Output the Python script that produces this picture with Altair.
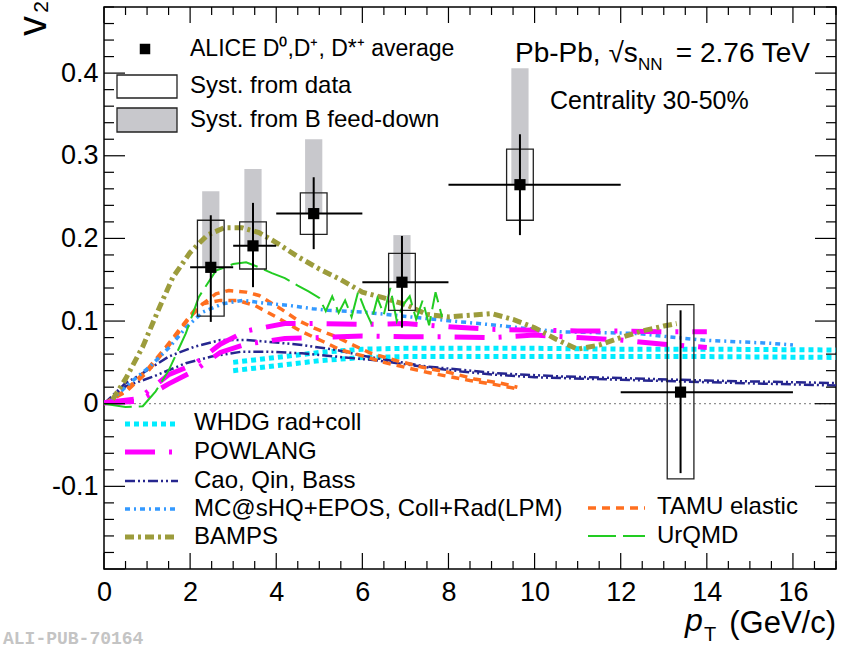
import altair as alt
import pandas as pd

FONT = "Liberation Sans"
W, H = 732, 562

# ---------------- ALICE measurement ----------------
pt = [2.48, 3.46, 4.87, 6.92, 9.66, 13.39]
pt_lo = [2, 3, 4, 6, 8, 12]
pt_hi = [3, 4, 6, 8, 12, 16]
v2 = [0.165, 0.191, 0.230, 0.147, 0.265, 0.014]
stat_lo = [0.099, 0.141, 0.187, 0.092, 0.204, -0.084]
stat_hi = [0.228, 0.243, 0.274, 0.203, 0.326, 0.113]
syst_lo = [0.106, 0.163, 0.205, 0.113, 0.222, -0.091]
syst_hi = [0.222, 0.220, 0.255, 0.182, 0.308, 0.120]
fd_hi = [0.257, 0.284, 0.320, 0.204, 0.406, 0.014]

# ---------------- model curves ----------------
whdg_x = [3.0, 3.5, 4.0, 4.5, 5.0, 5.5, 6.0, 7.0, 8.0, 10.0, 12.0, 14.0, 17.0]
whdg_hi = [0.050, 0.053, 0.056, 0.059, 0.062, 0.064, 0.066, 0.067, 0.067, 0.067, 0.066, 0.066, 0.065]
whdg_lo = [0.040, 0.043, 0.046, 0.049, 0.052, 0.054, 0.056, 0.057, 0.057, 0.057, 0.057, 0.057, 0.056]

pow_x = [0.0, 0.8, 1.5, 2.1, 2.7, 3.3, 4.2, 5.0, 6.0, 7.0, 8.0, 9.0, 10.0, 11.0, 12.0, 13.0, 14.0]
pow_hi = [0.001, 0.006, 0.035, 0.048, 0.072, 0.088, 0.097, 0.097, 0.096, 0.097, 0.093, 0.090, 0.089, 0.088, 0.088, 0.087, 0.087]
pow_lo = [0.001, 0.003, 0.024, 0.040, 0.062, 0.072, 0.079, 0.080, 0.082, 0.081, 0.081, 0.080, 0.083, 0.080, 0.077, 0.072, 0.068]

cao_hi_x = [0.0, 0.5, 0.9, 1.5, 2.1, 2.7, 3.3, 3.8, 4.6, 5.4, 6.0, 6.8, 7.5, 8.3, 9.1, 9.8, 10.6, 12.0, 14.0, 17.0]
cao_hi = [0.0, 0.025, 0.037, 0.057, 0.069, 0.077, 0.077, 0.075, 0.071, 0.065, 0.058, 0.051, 0.045, 0.041, 0.037, 0.035, 0.033, 0.031, 0.028, 0.025]
cao_lo_x = [0.0, 0.5, 1.15, 1.9, 2.5, 3.2, 3.8, 4.6, 5.4, 6.4, 7.5, 8.3, 9.1, 10.0, 12.0, 14.0, 17.0]
cao_lo = [0.0, 0.021, 0.033, 0.049, 0.057, 0.063, 0.063, 0.061, 0.057, 0.052, 0.044, 0.039, 0.035, 0.032, 0.029, 0.026, 0.022]

mc_x = [0.15, 0.6, 1.07, 1.53, 1.92, 2.3, 2.76, 3.23, 3.84, 4.3, 4.84, 5.2, 6.0, 6.75, 7.5, 8.3, 9.1, 9.8, 10.6, 11.5, 12.4, 13.1, 13.9, 14.7, 15.5, 16.0]
mc_v = [0.003, 0.025, 0.045, 0.069, 0.093, 0.111, 0.121, 0.125, 0.121, 0.119, 0.115, 0.113, 0.111, 0.107, 0.103, 0.099, 0.095, 0.091, 0.087, 0.086, 0.085, 0.081, 0.077, 0.075, 0.073, 0.071]

bamps_x = [0.2, 0.5, 0.9, 1.3, 1.6, 2.0, 2.4, 2.8, 3.2, 3.6, 4.0, 4.5, 5.0, 5.5, 6.0, 6.5, 7.0, 7.5, 8.0, 8.5, 9.0, 9.5, 10.0, 10.5, 11.0, 11.5, 12.0, 12.5, 13.0, 13.3]
bamps_v = [0.005, 0.030, 0.069, 0.118, 0.153, 0.183, 0.204, 0.213, 0.213, 0.207, 0.195, 0.178, 0.163, 0.150, 0.135, 0.128, 0.120, 0.108, 0.105, 0.107, 0.109, 0.102, 0.092, 0.078, 0.066, 0.071, 0.080, 0.088, 0.094, 0.097]

tamu_hi_x = [0.0, 0.5, 1.0, 1.4, 1.8, 2.1, 2.6, 2.9, 3.3, 3.6, 4.1, 4.5, 4.9, 5.4, 5.7, 6.2, 6.8, 7.4, 8.0, 8.6, 9.2, 9.6]
tamu_hi = [0.0, 0.016, 0.041, 0.066, 0.093, 0.113, 0.133, 0.137, 0.135, 0.131, 0.115, 0.101, 0.091, 0.081, 0.073, 0.061, 0.052, 0.044, 0.038, 0.030, 0.025, 0.020]
tamu_lo_x = [0.0, 0.5, 1.0, 1.5, 2.0, 2.3, 2.7, 3.1, 3.5, 4.0, 4.6, 5.1, 5.5, 6.0, 6.5, 7.0, 7.5, 8.0, 8.5, 9.0, 9.6]
tamu_lo = [0.0, 0.014, 0.038, 0.070, 0.105, 0.121, 0.125, 0.125, 0.119, 0.105, 0.087, 0.075, 0.065, 0.058, 0.050, 0.044, 0.038, 0.033, 0.028, 0.024, 0.018]

urqmd_x = [0.0, 0.5, 0.9, 1.2, 1.5, 1.9, 2.2, 2.6, 3.0, 3.3, 3.6, 3.9, 4.2, 4.5, 4.75, 5.0, 5.15, 5.3, 5.45, 5.6, 5.75, 5.9, 6.05, 6.2, 6.35, 6.5, 6.65, 6.8, 6.95, 7.1, 7.25, 7.4, 7.55, 7.7, 7.85]
urqmd_v = [0.0, -0.004, -0.003, 0.015, 0.040, 0.085, 0.129, 0.161, 0.169, 0.171, 0.165, 0.158, 0.152, 0.143, 0.136, 0.128, 0.112, 0.130, 0.110, 0.125, 0.105, 0.135, 0.115, 0.098, 0.128, 0.108, 0.140, 0.100, 0.120, 0.130, 0.102, 0.125, 0.095, 0.135, 0.105]

# ---------------- axis ticks ----------------
x_labels = [0, 2, 4, 6, 8, 10, 12, 14, 16]
x_minor = [i * 0.5 for i in range(0, 35) if i % 4 != 0]
y_labels = [-0.1, 0.0, 0.1, 0.2, 0.3, 0.4]
y_major = [-0.2, -0.1, 0.0, 0.1, 0.2, 0.3, 0.4]
y_minor = [round(-0.2 + 0.02 * i, 2) for i in range(0, 35) if i % 5 != 0]

XS = alt.Scale(domain=[0, 17], nice=False, zero=False)
YS = alt.Scale(domain=[-0.2, 0.48], nice=False, zero=False)

XAX = alt.Axis(values=x_labels, ticks=False, domain=False, grid=False, title=None,
               labelFont=FONT, labelFontSize=27, labelColor="black",
               labelPadding=10, labelFlush=False, labelOverlap=False)
YAX = alt.Axis(values=y_labels, ticks=False, domain=False, grid=False, title=None,
               labelFont=FONT, labelFontSize=27, labelColor="black",
               labelPadding=6, labelFlush=False, labelOverlap=False,
               labelExpr="datum.value == 0 ? '0' : (datum.value < 0 ? '-' + format(-datum.value, '.1f') : format(datum.value, '.1f'))")


def X(field="pt", **kw):
    return alt.X(f"{field}:Q", scale=XS, axis=XAX, **kw)


def Y(field="v2", **kw):
    return alt.Y(f"{field}:Q", scale=YS, axis=YAX, **kw)


meas = pd.DataFrame({"pt": pt, "pt_lo": pt_lo, "pt_hi": pt_hi, "v2": v2,
                     "stat_lo": stat_lo, "stat_hi": stat_hi,
                     "syst_lo": syst_lo, "syst_hi": syst_hi, "fd_hi": fd_hi})

base = alt.Chart(meas).transform_calculate(
    box_l="datum.pt - 0.31", box_r="datum.pt + 0.31",
    fd_l="datum.pt - 0.2", fd_r="datum.pt + 0.2")

gray = base.mark_rect(color="#c8c8cc").encode(x=X("fd_l"), x2="fd_r:Q", y=Y("v2"), y2="fd_hi:Q")
boxes = base.mark_rect(fill="white", fillOpacity=0, stroke="#222", strokeWidth=1.3).encode(
    x=X("box_l"), x2="box_r:Q", y=Y("syst_lo"), y2="syst_hi:Q")
vbars = base.mark_rule(color="black", strokeWidth=2).encode(x=X("pt"), y=Y("stat_lo"), y2="stat_hi:Q")
hbars = base.mark_rule(color="black", strokeWidth=2).encode(x=X("pt_lo"), x2="pt_hi:Q", y=Y("v2"))
markers = base.mark_square(color="black", size=125, opacity=1).encode(x=X("pt"), y=Y("v2"))


def curve(xs, ys, color, dash, width, cap="butt"):
    df = pd.DataFrame({"pt": xs, "v2": ys})
    return alt.Chart(df).mark_line(color=color, strokeDash=dash, strokeWidth=width,
                                   strokeCap=cap, clip=True).encode(x=X("pt"), y=Y("v2"), order="pt:Q")


C_WHDG = "#00ecff"
C_POW = "#ff00ff"
C_CAO = "#26268f"
C_MC = "#3399ff"
C_BAMPS = "#9c9c3c"
C_TAMU = "#ff6f1f"
C_URQMD = "#22cc22"

D_WHDG = [5, 4]
D_POW = [30, 14, 3, 14]
D_CAO = [10, 3, 2, 3, 2, 3]
D_MC = [5, 4, 2, 4]
D_BAMPS = [9, 4, 3, 4]
D_TAMU = [8, 6]
D_URQMD = [28, 7]

curves = [
    curve(whdg_x, whdg_hi, C_WHDG, D_WHDG, 5),
    curve(whdg_x, whdg_lo, C_WHDG, D_WHDG, 5),
    curve(cao_hi_x, cao_hi, C_CAO, D_CAO, 2.5),
    curve(cao_lo_x, cao_lo, C_CAO, D_CAO, 2.5),
    curve(tamu_hi_x, tamu_hi, C_TAMU, D_TAMU, 3.5),
    curve(tamu_lo_x, tamu_lo, C_TAMU, D_TAMU, 3.5),
    curve(mc_x, mc_v, C_MC, D_MC, 3.5),
    curve(pow_x, pow_hi, C_POW, D_POW, 5),
    curve(pow_x, pow_lo, C_POW, D_POW, 5),
    curve(bamps_x, bamps_v, C_BAMPS, D_BAMPS, 5),
    curve(urqmd_x, urqmd_v, C_URQMD, D_URQMD, 2),
]

one = pd.DataFrame({"a": [0]})
zero_line = alt.Chart(pd.DataFrame({"v2": [0.0]})).mark_rule(
    color="#777", strokeDash=[2, 3], strokeWidth=1).encode(y=Y("v2"))

# ticks (inside the frame, ROOT style)
dxM = pd.DataFrame({"pt": x_labels})
dxm = pd.DataFrame({"pt": x_minor})
dyM = pd.DataFrame({"v2": y_major})
dym = pd.DataFrame({"v2": y_minor})
tk = dict(color="black", strokeWidth=1.2)
ticks = [
    alt.Chart(dxM).mark_rule(**tk).encode(x=X(), y=alt.value(H), y2=alt.value(H - 16)),
    alt.Chart(dxM).mark_rule(**tk).encode(x=X(), y=alt.value(0), y2=alt.value(16)),
    alt.Chart(dxm).mark_rule(**tk).encode(x=X(), y=alt.value(H), y2=alt.value(H - 8)),
    alt.Chart(dxm).mark_rule(**tk).encode(x=X(), y=alt.value(0), y2=alt.value(8)),
    alt.Chart(dyM).mark_rule(**tk).encode(y=Y(), x=alt.value(0), x2=alt.value(21)),
    alt.Chart(dyM).mark_rule(**tk).encode(y=Y(), x=alt.value(W), x2=alt.value(W - 21)),
    alt.Chart(dym).mark_rule(**tk).encode(y=Y(), x=alt.value(0), x2=alt.value(10)),
    alt.Chart(dym).mark_rule(**tk).encode(y=Y(), x=alt.value(W), x2=alt.value(W - 10)),
]

# layer that carries both axes (labels only)
axes = alt.Chart(pd.DataFrame({"pt": [0, 17], "v2": [-0.2, 0.48]})).mark_point(opacity=0).encode(
    x=X("pt"), y=Y("v2"))


def txt(s, x, y, size=24, align="left", baseline="middle", **kw):
    return alt.Chart(one).mark_text(text=s, font=FONT, fontSize=size, align=align, baseline=baseline,
                                    color=kw.pop("color", "black"), **kw).encode(
        x=alt.value(x), y=alt.value(y))


def leg_line(x1, x2, y, color, dash, width):
    return alt.Chart(one).mark_rule(color=color, strokeDash=dash, strokeWidth=width, strokeCap="butt").encode(
        x=alt.value(x1), x2=alt.value(x2), y=alt.value(y))


legend = [
    alt.Chart(one).mark_square(color="black", size=110, opacity=1).encode(x=alt.value(41), y=alt.value(42)),
    txt("ALICE D\u2070,D\u207a, D*\u207a average", 86, 42, 23),
    alt.Chart(one).mark_rect(fill="white", stroke="#222", strokeWidth=1.3).encode(
        x=alt.value(13), x2=alt.value(73), y=alt.value(68), y2=alt.value(91)),
    txt("Syst. from data", 86, 79),
    alt.Chart(one).mark_rect(fill="#c8c8cc", stroke="#222", strokeWidth=1.3).encode(
        x=alt.value(13), x2=alt.value(73), y=alt.value(101), y2=alt.value(125)),
    txt("Syst. from B feed-down", 86, 113),
    txt("Pb-Pb, \u221as", 411, 55, 28, baseline="alphabetic"),
    txt("NN", 534, 63, 17, baseline="alphabetic"),
    txt("= 2.76 TeV", 706, 55, 28, align="right", baseline="alphabetic"),
    txt("Centrality 30-50%", 446, 94, 25),
    leg_line(21, 74, 417, C_WHDG, D_WHDG, 5), txt("WHDG rad+coll", 90, 416),
    leg_line(21, 74, 445, C_POW, D_POW, 5), txt("POWLANG", 90, 445),
    leg_line(21, 74, 474, C_CAO, D_CAO, 2.5), txt("Cao, Qin, Bass", 90, 474),
    leg_line(21, 74, 502, C_MC, D_MC, 3.5), txt("MC@sHQ+EPOS, Coll+Rad(LPM)", 90, 502),
    leg_line(21, 74, 530, C_BAMPS, D_BAMPS, 5), txt("BAMPS", 90, 530),
    leg_line(484, 541, 501, C_TAMU, D_TAMU, 3.5), txt("TAMU elastic", 553, 500),
    leg_line(484, 541, 529, C_URQMD, D_URQMD, 2), txt("UrQMD", 553, 529),
    # axis titles
    txt("v", -70, 19, 40, align="center", angle=270),
    txt("2", -62, 0, 21, align="center", angle=270),
    txt("p", 581, 624, 32, baseline="alphabetic", fontStyle="italic"),
    txt("T", 600, 634, 20, baseline="alphabetic"),
    txt("(GeV/c)", 732, 626, 31, align="right", baseline="alphabetic"),
    alt.Chart(one).mark_text(text="ALI-PUB-70164", font="Liberation Mono", fontSize=18, fontWeight="bold",
                             align="left", baseline="alphabetic", color="#c4c4c4").encode(
        x=alt.value(-101), y=alt.value(637)),
]

chart = alt.layer(axes, gray, zero_line, *curves, boxes, vbars, hbars, markers, *ticks, *legend).properties(
    width=W, height=H,
    autosize=alt.AutoSizeParams(type="none"),
    padding={"left": 104, "top": 7, "right": 12, "bottom": 77},
    background="white",
).configure_view(stroke="black", strokeWidth=1.5)

chart.save("out.html", embed_options={"renderer": "svg", "actions": False})
